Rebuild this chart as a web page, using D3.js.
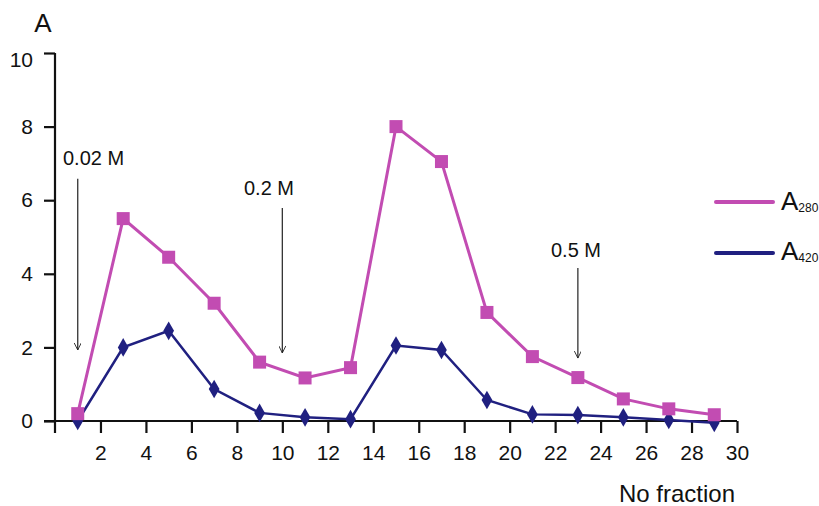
<!DOCTYPE html>
<html>
<head>
<meta charset="utf-8">
<script src="https://cdn.jsdelivr.net/npm/d3@7"></script>
<style>
  body { margin: 0; background: #fff; }
  svg { font-family: "Liberation Sans", Arial, sans-serif; }
  .axis path, .axis line { stroke: #111; stroke-width: 2.2; }
</style>
</head>
<body>
<svg width="819" height="506"></svg>
<script>
// fractions and absorbance readings
const fractions = [1, 3, 5, 7, 9, 11, 13, 15, 17, 19, 21, 23, 25, 27, 29];
const a280 = [0.2, 5.5, 4.45, 3.2, 1.6, 1.17, 1.45, 8.0, 7.05, 2.95, 1.75, 1.18, 0.6, 0.33, 0.17];
const a420 = [0.0, 2.0, 2.45, 0.87, 0.22, 0.1, 0.05, 2.05, 1.93, 0.57, 0.18, 0.16, 0.1, 0.03, -0.05];
const xTicks = [2, 4, 6, 8, 10, 12, 14, 16, 18, 20, 22, 24, 26, 28, 30];
const yTicks = [0, 2, 4, 6, 8, 10];
// salt steps: label, fraction, arrow top (A units), arrow bottom (A units)
const steps = [
    { label: "0.02 M", at: 1, top: 6.58, bottom: 1.93 },
    { label: "0.2 M", at: 10, top: 5.79, bottom: 1.85 },
    { label: "0.5 M", at: 23, top: 4.16, bottom: 1.71 }
];

const svg = d3.select("svg");
const x = d3.scaleLinear().domain([0, 30]).range([55, 737]);
const y = d3.scaleLinear().domain([0, 10]).range([421, 53]);

const pink = "#c24cb2", navy = "#202080";

// axes
svg.append("g")
    .attr("class", "axis")
    .attr("transform", "translate(0," + y(0) + ")")
    .call(d3.axisBottom(x).tickValues(xTicks).tickSize(12).tickPadding(8).tickSizeOuter(0))
    .call(g => g.select(".domain").attr("d", "M44,0H" + x(30)))
    .call(g => g.selectAll("text").attr("y", 39).attr("dy", 0)
        .attr("font-size", 21).attr("fill", "#111").attr("font-family", "Liberation Sans, Arial, sans-serif"));

svg.append("g")
    .attr("class", "axis")
    .attr("transform", "translate(" + x(0) + ",0)")
    .call(d3.axisLeft(y).tickValues(yTicks).tickSize(11).tickPadding(11).tickSizeOuter(0))
    .call(g => g.select(".domain").attr("d", "M0," + y(10) + "V" + (y(0) + 12)))
    .call(g => g.selectAll("text")
        .attr("font-size", 21).attr("fill", "#111").attr("font-family", "Liberation Sans, Arial, sans-serif"))
    .call(g => g.selectAll(".tick").filter(d => d === 10).select("text").attr("dy", "0.62em"));

svg.append("text").attr("x", 43).attr("y", 32).attr("text-anchor", "middle")
    .attr("font-size", 26).attr("fill", "#111").text("A");
svg.append("text").attr("x", 677).attr("y", 502).attr("text-anchor", "middle")
    .attr("font-size", 24).attr("fill", "#111").text("No fraction");

// arrow marker
svg.append("defs").append("marker")
    .attr("id", "head").attr("viewBox", "0 0 10 10")
    .attr("refX", 10).attr("refY", 5)
    .attr("markerWidth", 11).attr("markerHeight", 7)
    .attr("markerUnits", "userSpaceOnUse")
    .attr("orient", "auto")
    .append("path").attr("d", "M0,0L10,5L0,10").attr("fill", "none").attr("stroke", "#222").attr("stroke-width", 1.3);

steps.forEach(s => {
    svg.append("line")
        .attr("x1", x(s.at)).attr("x2", x(s.at))
        .attr("y1", y(s.top)).attr("y2", y(s.bottom))
        .attr("stroke", "#333").attr("stroke-width", 1.3)
        .attr("marker-end", "url(#head)");
});
svg.append("text").attr("x", 63).attr("y", 165).attr("font-size", 20).attr("fill", "#111").text(steps[0].label);
svg.append("text").attr("x", 269).attr("y", 195).attr("text-anchor", "middle").attr("font-size", 20).attr("fill", "#111").text(steps[1].label);
svg.append("text").attr("x", 576).attr("y", 257).attr("text-anchor", "middle").attr("font-size", 20).attr("fill", "#111").text(steps[2].label);

// series
const line = vals => d3.line().x((d, i) => x(fractions[i])).y(d => y(d))(vals);

svg.append("path").attr("d", line(a420)).attr("fill", "none")
    .attr("stroke", navy).attr("stroke-width", 2.5);
svg.append("path").attr("d", line(a280)).attr("fill", "none")
    .attr("stroke", pink).attr("stroke-width", 3);

svg.append("g").selectAll("path").data(a420).join("path")
    .attr("transform", (d, i) => "translate(" + x(fractions[i]) + "," + y(d) + ")")
    .attr("d", d3.symbol(d3.symbolDiamond, 100))
    .attr("fill", navy);

svg.append("g").selectAll("rect").data(a280).join("rect")
    .attr("x", (d, i) => x(fractions[i]) - 6.5)
    .attr("y", d => y(d) - 6.5)
    .attr("width", 13).attr("height", 13)
    .attr("fill", pink);

// legend
const legend = [{ name: "280", color: pink, y: 202, ty: 210 }, { name: "420", color: navy, y: 253, ty: 260 }];
legend.forEach(l => {
    svg.append("line").attr("x1", 716).attr("x2", 773).attr("y1", l.y).attr("y2", l.y)
        .attr("stroke", l.color).attr("stroke-width", 4).attr("stroke-linecap", "round");
    const t = svg.append("text").attr("x", 781).attr("y", l.ty).attr("font-size", 26).attr("fill", "#111");
    t.append("tspan").text("A");
    t.append("tspan").attr("font-size", 12).attr("dy", 2).text(l.name);
});
</script>
</body>
</html>
